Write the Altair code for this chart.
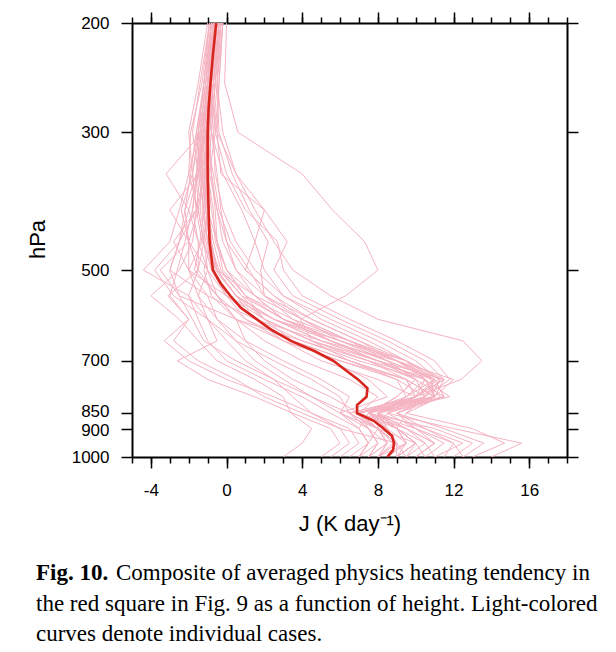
import altair as alt
import pandas as pd

# ---------------- data ----------------
LEVELS = [200, 250, 300, 350, 400, 450, 500, 550, 600, 650, 700, 750, 800, 850, 900, 950, 1000]

# individual cases (J, K/day) at LEVELS
case_o1 = [0.0, -0.1, 0.6, 4.0, 5.6, 7.3, 8.0, 6.3, 3.9, 4.5, 6.5, 9.5, 10.0, 7.5, 9.0, 9.5, 8.5]
case_o2 = [-0.6, -0.8, -0.5, 0.5, 1.5, 2.5, 3.5, 5.5, 8.0, 12.5, 13.5, 12.4, 10.0, 8.0, 9.0, 10.0, 9.0]
case_a1 = [-0.5, -0.8, -1.0, -1.2, -1.0, -0.8, -0.5, 0.5, 2.5, 5.5, 8.5, 11.0, 11.5, 7.5, 9.0, 10.0, 9.0]
case_a2 = [-0.3, -0.6, -0.8, -0.5, -0.3, 0.0, 0.5, 2.0, 4.5, 7.0, 9.5, 11.3, 10.5, 8.0, 8.5, 9.0, 8.5]
case_a3 = [-0.8, -1.0, -1.3, -1.5, -1.2, -1.0, -0.8, 0.0, 1.5, 4.0, 7.0, 10.5, 11.0, 7.0, 8.0, 8.8, 8.0]
case_a4 = [-0.4, -0.7, -0.9, -0.8, -0.6, -0.5, -0.2, 1.0, 3.5, 6.5, 9.0, 11.0, 9.5, 7.0, 9.5, 11.0, 10.0]
case_a5 = [-0.6, -1.0, -1.5, -1.8, -1.6, -1.3, -0.5, 1.5, 3.0, 5.5, 8.0, 10.5, 11.8, 8.0, 8.0, 9.0, 8.5]
case_a6 = [-0.2, -0.5, -0.7, -0.6, -0.2, 0.5, 1.5, 3.0, 5.5, 8.0, 10.0, 11.2, 10.0, 6.5, 8.0, 8.5, 7.5]
case_a7 = [-0.7, -1.1, -1.4, -1.3, -1.1, -0.9, -0.4, 0.8, 2.0, 4.5, 8.0, 11.5, 11.0, 8.5, 10.0, 11.5, 10.5]
case_a8 = [-0.5, -0.9, -1.2, -1.0, -0.7, -0.6, 0.0, 1.5, 4.0, 6.0, 8.5, 10.0, 10.5, 7.0, 7.5, 8.0, 7.5]
case_a9 = [-0.3, -0.6, -0.9, -1.1, -1.3, -1.0, -0.6, 0.5, 2.5, 5.0, 9.0, 12.0, 11.0, 8.0, 9.0, 10.0, 9.5]
case_a10 = [-0.9, -1.2, -1.5, -1.4, -1.0, -0.5, 0.0, 1.0, 3.0, 6.0, 9.5, 11.0, 10.0, 7.5, 8.5, 9.5, 8.5]
case_a11 = [-0.6, -0.9, -1.1, -1.5, -1.8, -1.5, -1.0, 0.0, 2.0, 4.5, 7.5, 10.0, 11.5, 8.5, 8.0, 9.0, 8.0]
case_a12 = [-0.4, -0.8, -1.0, -0.9, -0.5, 0.0, 1.0, 2.5, 4.0, 6.5, 9.0, 10.8, 11.0, 7.0, 8.0, 7.5, 7.0]
case_a13 = [-0.6, -1.0, -1.2, -1.5, -2.0, -2.5, -3.0, -1.0, 1.5, 5.0, 8.0, 10.5, 10.0, 6.5, 7.5, 8.0, 7.0]
case_a14 = [-0.8, -1.1, -1.4, -1.8, -2.4, -2.0, -3.5, -2.5, 0.5, 4.0, 7.5, 11.0, 10.5, 7.5, 8.5, 9.0, 8.5]
case_a15 = [-0.5, -0.8, -1.0, -1.2, -1.6, -2.8, -2.0, 0.0, 2.5, 6.0, 9.0, 11.3, 10.8, 8.0, 9.5, 10.5, 9.5]
case_a16 = [-0.4, -0.7, -0.9, -1.0, -1.2, -1.4, -1.7, -0.5, 1.0, 3.5, 6.5, 9.5, 11.0, 9.0, 10.0, 11.0, 10.0]
case_e1 = [-0.5, -0.9, -1.2, -1.4, -1.2, -1.0, -0.5, 0.5, 2.0, 4.5, 7.5, 9.5, 10.0, 8.5, 12.0, 15.6, 14.0]
case_e2 = [-0.7, -1.0, -1.3, -1.6, -1.5, -1.2, -0.8, 0.0, 1.0, 3.0, 6.0, 9.0, 10.5, 9.5, 13.0, 14.7, 13.0]
case_e3 = [-0.3, -0.7, -1.0, -0.8, -0.5, -0.2, 0.5, 1.5, 3.0, 5.5, 8.5, 11.0, 11.5, 9.0, 11.5, 13.6, 12.5]
case_e4 = [-0.6, -1.0, -1.2, -1.3, -1.4, -1.1, -0.7, 0.2, 1.5, 3.5, 6.5, 9.0, 9.5, 8.0, 10.5, 12.5, 11.0]
case_e5 = [-0.5, -0.8, -1.1, -1.2, -1.0, -0.8, -0.5, 0.5, 2.5, 5.0, 8.0, 10.0, 9.0, 7.5, 10.0, 12.0, 12.5]
case_b1 = [-0.8, -1.2, -1.5, -2.0, -2.5, -3.0, -4.4, -2.0, -1.5, -1.0, 0.0, 2.0, 4.0, 5.5, 7.0, 7.5, 7.0]
case_b2 = [-0.6, -1.0, -1.3, -3.2, -2.0, -1.5, -1.5, -3.1, -2.0, -3.3, -2.0, 0.0, 2.5, 4.5, 6.5, 7.0, 6.0]
case_b3 = [-0.9, -1.4, -1.8, -1.5, -3.0, -2.0, -1.0, -1.5, -1.0, -0.5, -2.6, -1.0, 1.5, 3.5, 5.5, 6.0, 5.0]
case_b4 = [-0.7, -1.0, -1.2, -1.4, -1.6, -1.8, -2.5, -4.0, -2.5, -1.5, -0.5, 1.5, 3.0, 3.4, 4.5, 4.0, 3.0]
case_b5 = [-0.5, -0.8, -1.0, -1.2, -1.5, -2.0, -2.0, -1.0, -0.5, 0.5, 1.5, 3.0, 4.5, 6.0, 7.5, 8.0, 7.5]
case_b6 = [-0.6, -0.9, -1.4, -1.6, -1.8, -2.2, -2.6, -3.0, -2.0, -2.8, -1.5, 0.5, 2.0, 4.0, 6.0, 9.0, 9.5]
case_b7 = [-0.4, -0.7, -1.0, -1.1, -1.0, -1.2, -1.5, -0.5, 0.5, 1.0, 2.0, 3.5, 5.5, 7.0, 8.5, 9.0, 8.0]
case_b8 = [-0.8, -1.1, -1.6, -1.9, -2.2, -2.5, -3.0, -2.5, -1.8, -1.2, 0.5, 2.5, 4.5, 6.5, 8.0, 10.0, 10.5]
case_c1 = [-0.3, -0.5, -0.2, 0.5, 2.0, 3.2, 2.5, 3.5, 6.0, 8.5, 10.5, 11.5, 10.0, 7.0, 8.0, 8.5, 8.0]
case_c2 = [-0.5, -0.8, -0.6, 0.0, 1.0, 2.7, 3.0, 4.0, 6.5, 9.0, 11.0, 11.8, 10.5, 7.5, 7.0, 7.5, 7.0]
case_c3 = [-0.2, -0.4, -0.5, -0.3, 2.0, 1.5, 2.0, 3.0, 5.0, 7.5, 9.5, 10.5, 9.5, 8.0, 9.0, 9.5, 9.0]
case_c4 = [-0.7, -1.0, -0.8, -0.2, 0.8, 1.5, 1.0, 2.5, 4.5, 7.0, 9.0, 10.5, 11.0, 6.8, 8.0, 8.5, 7.5]
case_d1 = [-0.9, -1.3, -1.9, -2.0, -1.5, -1.2, -1.0, -0.5, 0.5, 2.0, 4.0, 6.5, 8.0, 7.0, 9.0, 10.5, 11.0]
case_d2 = [-0.4, -0.6, -0.8, -1.0, -0.8, -0.5, 0.0, 1.0, 2.0, 3.5, 5.5, 7.5, 8.5, 6.0, 7.0, 7.5, 6.5]
case_d3 = [-0.6, -1.0, -1.3, -1.1, -0.9, -1.3, -2.0, -1.5, -0.5, 1.0, 3.0, 5.0, 6.5, 6.0, 8.0, 9.0, 9.0]
case_d4 = [-0.3, -0.5, -0.4, 0.3, 1.2, 2.2, 1.8, 2.0, 4.0, 6.5, 8.5, 10.0, 9.0, 7.5, 9.5, 11.0, 10.0]
case_d5 = [-0.7, -1.0, -1.2, -1.6, -2.2, -2.0, -1.5, -2.0, -1.0, 0.5, 2.5, 4.5, 6.0, 6.5, 7.5, 8.5, 8.0]
case_d6 = [-0.5, -0.8, -1.0, -1.3, -1.0, -0.7, -0.3, 0.8, 3.0, 6.5, 9.5, 11.5, 10.0, 7.5, 11.0, 13.0, 12.0]
case_d7 = [-0.8, -1.2, -1.6, -1.4, -1.0, -0.8, -1.2, -0.8, 0.5, 3.0, 6.0, 9.5, 11.0, 9.0, 10.5, 12.0, 11.5]
case_d8 = [-0.2, -0.4, -0.6, -0.9, -1.1, -0.9, -0.5, 0.5, 1.5, 3.0, 5.0, 8.0, 10.0, 8.0, 9.0, 9.5, 8.0]
case_d9 = [-1.0, -1.5, -2.0, -1.8, -1.6, -2.5, -3.8, -2.8, -1.0, 0.0, 1.0, 2.5, 3.5, 4.5, 6.0, 6.5, 5.5]
case_d10 = [-0.5, -0.9, -1.1, -0.7, -0.4, 0.2, 1.2, 2.0, 3.5, 5.5, 8.0, 10.5, 11.3, 9.5, 9.0, 10.0, 9.0]

CASES = [case_o1, case_o2, case_a1, case_a2, case_a3, case_a4, case_a5, case_a6, case_a7,
         case_a8, case_a9, case_a10, case_a11, case_a12, case_a13, case_a14, case_a15,
         case_a16, case_e1, case_e2, case_e3, case_e4, case_e5, case_b1, case_b2, case_b3,
         case_b4, case_b5, case_b6, case_b7, case_b8, case_c1, case_c2, case_c3, case_c4,
         case_d1, case_d2, case_d3, case_d4, case_d5, case_d6, case_d7, case_d8, case_d9,
         case_d10]

# composite (mean) profile
MEAN_LEVELS = [200, 225, 250, 275, 300, 350, 400, 450, 500, 525, 550, 575, 600, 625, 650,
               675, 700, 725, 750, 775, 800, 825, 850, 875, 900, 925, 950, 975, 1000]
MEAN_J = [-0.55, -0.72, -0.85, -0.95, -1.0, -1.0, -0.95, -0.9, -0.72, -0.32, 0.2, 0.75, 1.6,
          2.4, 3.4, 4.65, 5.65, 6.3, 6.95, 7.45, 7.4, 6.9, 6.9, 7.8, 8.3, 8.75, 8.85, 8.8, 8.5]

X_MAJOR = [-4, 0, 4, 8, 12, 16]
X_MINOR = list(range(-5, 19))
Y_TICKS = [200, 300, 500, 700, 850, 900, 1000]

CAPTION_BOLD = "Fig. 10."
CAPTION_1 = "Composite of averaged physics heating tendency in"
CAPTION_2 = "the red square in Fig. 9 as a function of height. Light-colored"
CAPTION_3 = "curves denote individual cases."

# ---------------- tables ----------------
rows = []
for i, vals in enumerate(CASES):
    for p, j in zip(LEVELS, vals):
        rows.append({"case": i, "p": p, "J": j})
df_cases = pd.DataFrame(rows)
df_mean = pd.DataFrame({"p": MEAN_LEVELS, "J": MEAN_J})

PINK = "#f5b3c1"
RED = "#d7261e"
SANS = "Liberation Sans"
SERIF = "Liberation Serif"

x_scale = alt.Scale(domain=[-5, 18], nice=False, zero=False)
y_scale = alt.Scale(type="log", domain=[200, 1000], reverse=True, nice=False)

common_axis = dict(grid=False, domainColor="black", domainWidth=2, tickColor="black",
                   tickWidth=1.5, labelColor="black", titleColor="black",
                   labelFont=SANS, titleFont=SANS, labelOverlap=False)

y_label_offset = {
    "condition": [
        {"test": "datum.value == 850", "value": -1.5},
        {"test": "datum.value == 900", "value": 1.5},
    ],
    "value": 0,
}

cases = alt.Chart(df_cases).mark_line(color=PINK, strokeWidth=1, clip=True).encode(
    x=alt.X("J:Q", scale=x_scale, axis=alt.Axis(
        orient="bottom", values=X_MAJOR, tickSize=11, labelFontSize=17, labelPadding=14,
        labelExpr="'' + datum.value", title="J (K day\u207b\u00b9)", titleFontSize=22,
        titleFontWeight="normal", titleY=66, titleBaseline="middle", **common_axis)),
    y=alt.Y("p:Q", scale=y_scale, axis=alt.Axis(
        orient="left", values=Y_TICKS, tickSize=11, labelFontSize=17, labelPadding=12,
        labelOffset=y_label_offset,
        labelExpr="'' + datum.value", title="hPa", titleFontSize=22,
        titleFontWeight="normal", titleX=-95, titleY=216, titleAngle=270,
        titleAlign="center", titleBaseline="middle", **common_axis)),
    detail="case:N",
    order="p:Q",
)

mean = alt.Chart(df_mean).mark_line(color=RED, strokeWidth=2.6, clip=True).encode(
    x=alt.X("J:Q", scale=x_scale, axis=alt.Axis(
        orient="top", values=X_MAJOR, tickSize=11, labels=False, title=None, **common_axis)),
    y=alt.Y("p:Q", scale=y_scale, axis=alt.Axis(
        orient="right", values=Y_TICKS, tickSize=11, labels=False, title=None, **common_axis)),
    order="p:Q",
)

minor_bottom = alt.Chart(df_mean).mark_point(opacity=0).encode(
    x=alt.X("J:Q", scale=x_scale, axis=alt.Axis(
        orient="bottom", values=X_MINOR, tickSize=6, labels=False, domain=False,
        title=None, grid=False, tickColor="black", tickWidth=1.5)),
    y=alt.Y("p:Q", scale=y_scale, axis=None),
)
minor_top = alt.Chart(df_mean).mark_point(opacity=0).encode(
    x=alt.X("J:Q", scale=x_scale, axis=alt.Axis(
        orient="top", values=X_MINOR, tickSize=6, labels=False, domain=False,
        title=None, grid=False, tickColor="black", tickWidth=1.5)),
    y=alt.Y("p:Q", scale=y_scale, axis=None),
)


def caption(text, x, y, bold=False):
    return alt.Chart(pd.DataFrame({"t": [text]})).mark_text(
        align="left", baseline="alphabetic", font=SERIF, fontSize=23,
        fontWeight="bold" if bold else "normal", color="black",
    ).encode(text="t:N", x=alt.value(x), y=alt.value(y))


cap = [
    caption(CAPTION_BOLD, -96, 557, bold=True),
    caption(CAPTION_1, -16, 557),
    caption(CAPTION_2, -96, 588),
    caption(CAPTION_3, -96, 618),
]

chart = alt.layer(cases, mean, minor_bottom, minor_top, *cap).resolve_axis(
    x="independent", y="independent"
).properties(
    width=435, height=434,
    padding={"left": 124, "top": 15, "right": 41, "bottom": 190},
    autosize=alt.AutoSizeParams(type="none"),
    background="white",
).configure_view(stroke=None)

chart.save("out.html", embed_options={"renderer": "svg", "actions": False})
